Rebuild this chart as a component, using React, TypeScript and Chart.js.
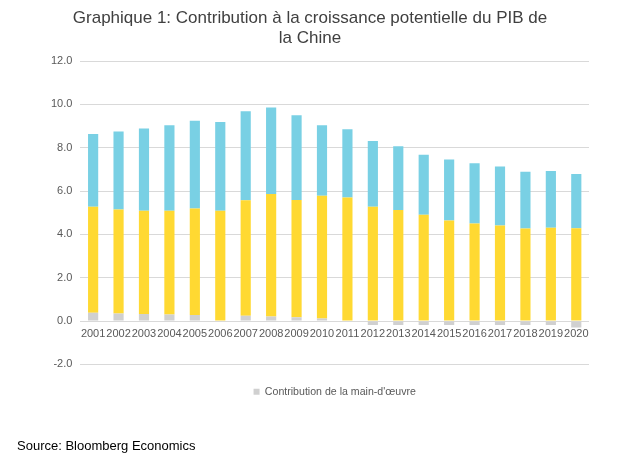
import React, { useEffect, useRef } from "react";
import { Chart, registerables } from "chart.js";

Chart.register(...registerables);

const years = ["2001","2002","2003","2004","2005","2006","2007","2008","2009","2010","2011","2012","2013","2014","2015","2016","2017","2018","2019","2020"];
const labourContribution = [0.38,0.35,0.33,0.30,0.28,0.0,0.24,0.21,0.18,0.12,0.03,-0.18,-0.18,-0.18,-0.18,-0.18,-0.18,-0.18,-0.18,-0.30];
const capitalContribution = [4.89,4.80,4.76,4.79,4.91,5.09,5.34,5.65,5.41,5.66,5.67,5.27,5.13,4.90,4.64,4.50,4.41,4.27,4.31,4.28];
const productivityContribution = [3.36,3.60,3.79,3.95,4.05,4.10,4.10,3.99,3.91,3.26,3.15,3.04,2.94,2.77,2.81,2.78,2.72,2.62,2.61,2.50];
const yTicks = [-2, 0, 2, 4, 6, 8, 10, 12];

const FONT = "'Liberation Sans', Arial, sans-serif";

export default function App() {
  const ref = useRef<HTMLCanvasElement | null>(null);
  useEffect(() => {
    if (!ref.current) return;
    const chart = new Chart(ref.current, {
      type: "bar",
      data: {
        labels: years,
        datasets: [
          { label: "Contribution de la main-d'œuvre", data: labourContribution, backgroundColor: "#D0D0D0", barPercentage: 0.4, categoryPercentage: 1 },
          { label: "Contribution du capital", data: capitalContribution, backgroundColor: "#FFD932", barPercentage: 0.4, categoryPercentage: 1 },
          { label: "Contribution de la productivité", data: productivityContribution, backgroundColor: "#79D0E4", barPercentage: 0.4, categoryPercentage: 1 },
        ],
      },
      options: {
        responsive: false,
        animation: false,
        layout: { padding: { left: 43, right: 51, top: 61, bottom: 52 } },
        plugins: {
          title: { display: false },
          tooltip: { enabled: false },
          legend: {
            position: "bottom",
            fullSize: false,
            labels: {
              filter: (item) => item.datasetIndex === 0,
              boxWidth: 6,
              boxHeight: 6,
              padding: 22,
              color: "#595959",
              font: { family: FONT, size: 10.6 },
            },
          },
        },
        scales: {
          x: {
            stacked: true,
            position: { y: 0 } as any,
            grid: { display: false, drawTicks: false },
            border: { display: false },
            ticks: {
              color: "#595959",
              font: { family: FONT, size: 11 },
              padding: 6,
              maxRotation: 0,
              minRotation: 0,
              autoSkip: false,
            },
          },
          y: {
            stacked: true,
            min: -2,
            max: 12,
            afterBuildTicks: (axis) => {
              axis.ticks = yTicks.map((v) => ({ value: v }));
            },
            grid: { color: "#D9D9D9", drawTicks: false, lineWidth: 1 },
            border: { display: false },
            ticks: {
              color: "#595959",
              font: { family: FONT, size: 11 },
              padding: 8,
              callback: (v) => Number(v).toFixed(1),
            },
          },
        },
      },
    });
    return () => chart.destroy();
  }, []);

  return (
    <div style={{ position: "absolute", left: 0, top: 0, width: 640, height: 459, background: "#fff" }}>
      <canvas ref={ref} width={640} height={459} style={{ position: "absolute", left: 0, top: 0 }} />
      <div
        style={{
          position: "absolute",
          left: 0,
          top: 8,
          width: 620,
          textAlign: "center",
          fontFamily: FONT,
          fontSize: 17,
          lineHeight: "20px",
          color: "#404040",
        }}
      >
        Graphique 1: Contribution à la croissance potentielle du PIB de
        <br />
        la Chine
      </div>
      <div
        style={{
          position: "absolute",
          left: 17,
          top: 438,
          fontFamily: FONT,
          fontSize: 13,
          lineHeight: "16px",
          color: "#000",
        }}
      >
        Source: Bloomberg Economics
      </div>
    </div>
  );
}
